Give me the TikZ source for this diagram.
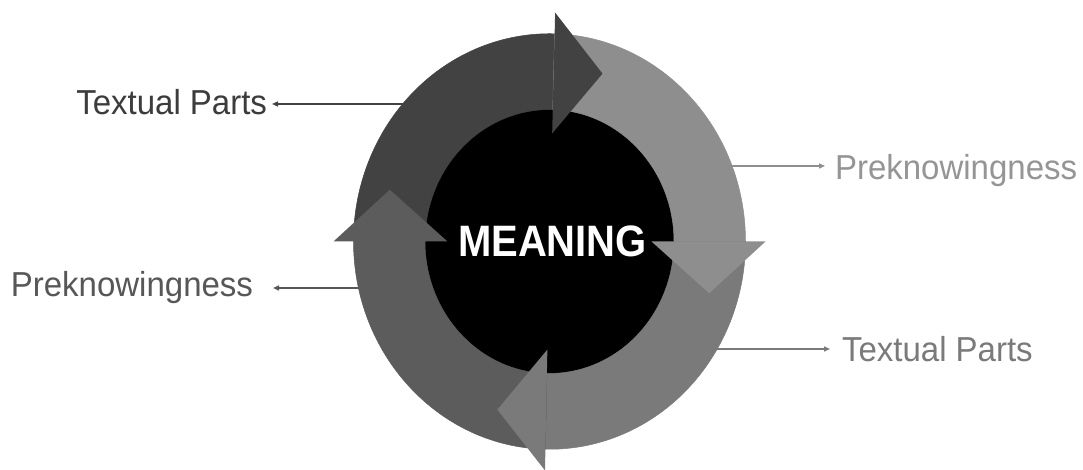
\documentclass[tikz,border=0pt]{standalone}
\usepackage{fontspec}
\setmainfont{Liberation Sans}
\usetikzlibrary{arrows.meta}
\definecolor{cA}{HTML}{424242}
\definecolor{cB}{HTML}{8E8E8E}
\definecolor{cC}{HTML}{7A7A7A}
\definecolor{cD}{HTML}{5C5C5C}
\definecolor{tA}{HTML}{3C3C3C}
\definecolor{tB}{HTML}{959595}
\definecolor{tD}{HTML}{575757}
\begin{document}
\begin{tikzpicture}[x=1pt,y=1pt,
  lbl/.style={inner sep=0pt, outer sep=0pt, font=\fontsize{33}{37}\selectfont},
  conn/.style={line width=1.4pt, -{Triangle[length=6pt,width=5pt]}},
  band/.style={line width=0.5pt},
]
\useasboundingbox (0,0) rectangle (1083,470);
\fill[white] (0,0) rectangle (1083,470);

% ring-side ends of the connectors
\coordinate (r1) at (410,366);
\coordinate (r2) at (364,182);
\coordinate (r3) at (725,304);
\coordinate (r4) at (712,121);

% labels
\node[lbl, anchor=base east, text=tA] (t1) at (267,355) {\scalebox{1}[1.05]{Textual Parts}};
\node[lbl, anchor=base east, text=tD] (t2) at (253,173) {\scalebox{1}[1.05]{Preknowingness}};
\node[lbl, anchor=base west, text=tB] (t3) at (835,290) {\scalebox{1}[1.05]{Preknowingness}};
\node[lbl, anchor=base west, text=cC] (t4) at (842,108) {\scalebox{1}[1.05]{Textual Parts}};

% connectors
\draw[conn, draw=cA, shorten >=5pt] (r1) -- (t1.east |- r1);
\draw[conn, draw=tD, shorten >=20pt] (r2) -- (t2.east |- r2);
\draw[conn, draw=cB, shorten >=10pt] (r3) -- (t3.west |- r3);
\draw[conn, draw=cC, shorten >=12pt] (r4) -- (t4.west |- r4);

% cycle
\begin{scope}[shift={(549.5,228.5)}, yscale=1.06]
  \fill[black] (0,0) circle[radius=125];
  % bodies
  \filldraw[band, fill=cA, draw=cA] (180:196) arc[start angle=180, end angle=88.5, radius=196]
     -- (88.5:124.5) arc[start angle=88.5, end angle=180, radius=124.5] -- cycle;
  \filldraw[band, fill=cB, draw=cB] (88.5:196) arc[start angle=88.5, end angle=0, radius=196]
     -- (0:124.5) arc[start angle=0, end angle=88.5, radius=124.5] -- cycle;
  \filldraw[band, fill=cC, draw=cC] (0:196) arc[start angle=0, end angle=-91.2, radius=196]
     -- (-91.2:124.5) arc[start angle=-91.2, end angle=0, radius=124.5] -- cycle;
  \filldraw[band, fill=cD, draw=cD] (-91.2:196) arc[start angle=-91.2, end angle=-180, radius=196]
     -- (-180:124.5) arc[start angle=-180, end angle=-91.2, radius=124.5] -- cycle;
  % heads
  \fill[cA] (88.5:216) -- (71.5:167) -- (88.5:102) -- cycle;
  \fill[cB] (0:216) -- (-17:167) -- (0:102) -- cycle;
  \fill[cC] (-91.2:216) -- (-108.2:167) -- (-91.2:102) -- cycle;
  \fill[cD] (180:216) -- (163:167) -- (180:102) -- cycle;
\end{scope}

\node[inner sep=0pt, text=white, font=\fontsize{40}{44}\selectfont\bfseries] (m) at (552.5,229) {\scalebox{1}[1.1]{MEANING}};
\end{tikzpicture}
\end{document}
